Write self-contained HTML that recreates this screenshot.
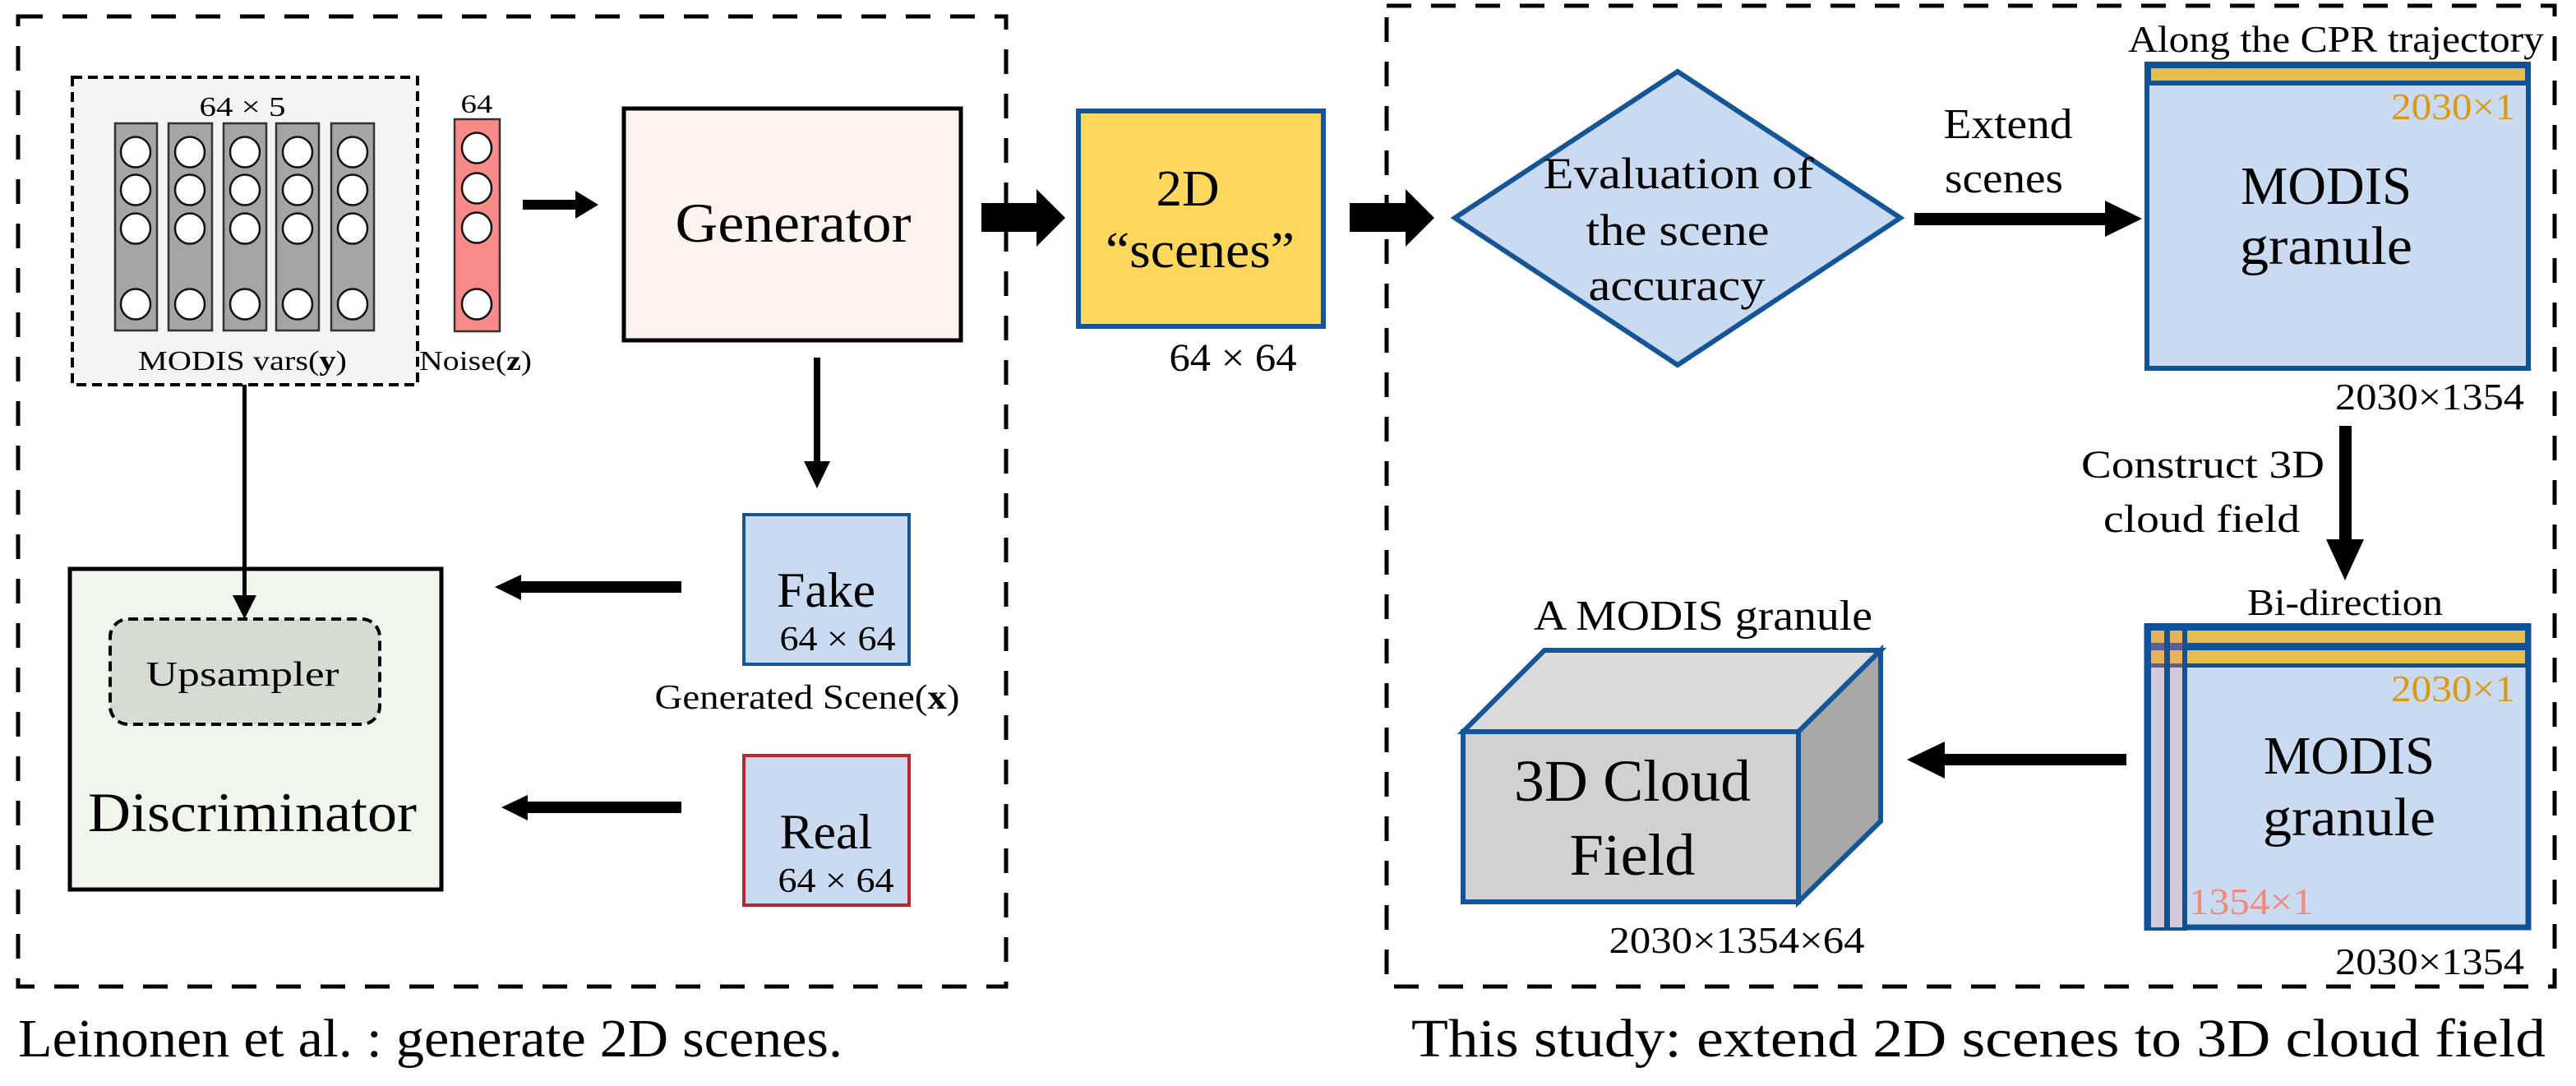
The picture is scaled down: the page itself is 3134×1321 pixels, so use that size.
<!DOCTYPE html>
<html><head><meta charset="utf-8"><style>html,body{margin:0;padding:0;background:#fff}svg{display:block}text{font-family:"Liberation Serif","Times New Roman",serif}</style></head>
<body>
<svg xmlns="http://www.w3.org/2000/svg" width="3134" height="1321" viewBox="0 0 3134 1321" fill="#000">
<rect width="3134" height="1321" fill="#fff"/>
<rect x="22" y="20" width="1202" height="1180" fill="none" stroke="#000" stroke-width="5" stroke-dasharray="30 24"/>
<rect x="1687" y="7" width="1421" height="1193" fill="none" stroke="#000" stroke-width="5" stroke-dasharray="30 24"/>

<rect x="88" y="94" width="420" height="374" fill="#f4f4f4" stroke="#000" stroke-width="4" stroke-dasharray="12 7"/>
<text x="295" y="141" font-size="34" text-anchor="middle" textLength="105" lengthAdjust="spacingAndGlyphs">64 × 5</text>
<g stroke="#333" stroke-width="2.5">
<rect x="140" y="150" width="51" height="252" fill="#a6a4a5"/>
<rect x="205" y="150" width="53" height="252" fill="#a6a4a5"/>
<rect x="272" y="150" width="52" height="252" fill="#a6a4a5"/>
<rect x="336" y="150" width="52" height="252" fill="#a6a4a5"/>
<rect x="403" y="150" width="52" height="252" fill="#a6a4a5"/>
<rect x="553" y="145" width="55" height="258" fill="#f98a8a"/>
</g>
<g fill="#fff" stroke="#111" stroke-width="2.5">
<ellipse cx="165" cy="185" rx="18" ry="18.5"/><ellipse cx="165" cy="231" rx="18" ry="18.5"/><ellipse cx="165" cy="278" rx="18" ry="18.5"/><ellipse cx="165" cy="370" rx="18" ry="18.5"/>
<ellipse cx="231" cy="185" rx="18" ry="18.5"/><ellipse cx="231" cy="231" rx="18" ry="18.5"/><ellipse cx="231" cy="278" rx="18" ry="18.5"/><ellipse cx="231" cy="370" rx="18" ry="18.5"/>
<ellipse cx="298" cy="185" rx="18" ry="18.5"/><ellipse cx="298" cy="231" rx="18" ry="18.5"/><ellipse cx="298" cy="278" rx="18" ry="18.5"/><ellipse cx="298" cy="370" rx="18" ry="18.5"/>
<ellipse cx="362" cy="185" rx="18" ry="18.5"/><ellipse cx="362" cy="231" rx="18" ry="18.5"/><ellipse cx="362" cy="278" rx="18" ry="18.5"/><ellipse cx="362" cy="370" rx="18" ry="18.5"/>
<ellipse cx="429" cy="185" rx="18" ry="18.5"/><ellipse cx="429" cy="231" rx="18" ry="18.5"/><ellipse cx="429" cy="278" rx="18" ry="18.5"/><ellipse cx="429" cy="370" rx="18" ry="18.5"/>
<ellipse cx="580" cy="180" rx="18" ry="18.5"/><ellipse cx="580" cy="229" rx="18" ry="18.5"/><ellipse cx="580" cy="277" rx="18" ry="18.5"/><ellipse cx="580" cy="370" rx="18" ry="18.5"/>
</g>
<text x="580" y="137" font-size="32" text-anchor="middle" textLength="39" lengthAdjust="spacingAndGlyphs">64</text>
<text x="295" y="450" font-size="34" text-anchor="middle" textLength="254" lengthAdjust="spacingAndGlyphs">MODIS vars(<tspan font-weight="bold">y</tspan>)</text>
<text x="510" y="450" font-size="34" textLength="137" lengthAdjust="spacingAndGlyphs">Noise(<tspan font-weight="bold">z</tspan>)</text>

<polygon points="636,243 700,243 700,232 728,249 700,266 700,255 636,255"/>
<rect x="759" y="132" width="410" height="282" fill="#fdf3ee" stroke="#000" stroke-width="5"/>
<text x="965" y="294" font-size="68" text-anchor="middle" textLength="287" lengthAdjust="spacingAndGlyphs">Generator</text>
<rect x="990" y="435" width="8" height="128"/>
<polygon points="978,561 1010,561 994,594"/>

<rect x="85" y="692" width="452" height="390" fill="#eff6ec" stroke="#000" stroke-width="5"/>
<rect x="134" y="753" width="328" height="128" rx="22" fill="#d5dcd2" stroke="#000" stroke-width="4" stroke-dasharray="12 7"/>
<rect x="295" y="468" width="5" height="260"/>
<polygon points="283,724 312,724 297.5,753"/>
<text x="295" y="834" font-size="42" text-anchor="middle" textLength="235" lengthAdjust="spacingAndGlyphs">Upsampler</text>
<text x="307" y="1011" font-size="68" text-anchor="middle" textLength="400" lengthAdjust="spacingAndGlyphs">Discriminator</text>
<polygon points="602,714 634,699 634,707 829,707 829,721 634,721 634,730"/>
<polygon points="610,982 642,967 642,975 829,975 829,989 642,989 642,998"/>
<rect x="905" y="626" width="201" height="182" fill="#c9daf1" stroke="#15569a" stroke-width="4"/>
<text x="1005" y="738" font-size="60" text-anchor="middle" textLength="120" lengthAdjust="spacingAndGlyphs">Fake</text>
<text x="1019" y="791" font-size="42" text-anchor="middle" textLength="141" lengthAdjust="spacingAndGlyphs">64 × 64</text>
<text x="982" y="862" font-size="42" text-anchor="middle" textLength="371" lengthAdjust="spacingAndGlyphs">Generated Scene(<tspan font-weight="bold">x</tspan>)</text>
<rect x="905" y="919" width="201" height="182" fill="#c9daf1" stroke="#c0262d" stroke-width="4"/>
<text x="1005" y="1032" font-size="60" text-anchor="middle" textLength="113" lengthAdjust="spacingAndGlyphs">Real</text>
<text x="1017" y="1085" font-size="42" text-anchor="middle" textLength="141" lengthAdjust="spacingAndGlyphs">64 × 64</text>

<polygon points="1194,247 1261,247 1261,230 1296,265 1261,300 1261,282 1194,282"/>
<polygon points="1642,247 1710,247 1710,230 1745,265 1710,300 1710,282 1642,282"/>
<rect x="1312" y="135" width="298" height="262" fill="#fdd85c" stroke="#15569a" stroke-width="6"/>
<text x="1445" y="250" font-size="62" text-anchor="middle" textLength="77" lengthAdjust="spacingAndGlyphs">2D</text>
<text x="1460" y="325" font-size="62" text-anchor="middle" textLength="230" lengthAdjust="spacingAndGlyphs">“scenes”</text>
<text x="1500" y="451" font-size="48" text-anchor="middle" textLength="155" lengthAdjust="spacingAndGlyphs">64 × 64</text>

<polygon points="1770,265 2041,87 2312,265 2041,444" fill="#c9daf1" stroke="#135596" stroke-width="6"/>
<text x="2042" y="229" font-size="54" text-anchor="middle" textLength="329" lengthAdjust="spacingAndGlyphs">Evaluation of</text>
<text x="2041" y="298" font-size="54" text-anchor="middle" textLength="223" lengthAdjust="spacingAndGlyphs">the scene</text>
<text x="2040" y="365" font-size="54" text-anchor="middle" textLength="215" lengthAdjust="spacingAndGlyphs">accuracy</text>
<text x="2443" y="168" font-size="52" text-anchor="middle" textLength="157" lengthAdjust="spacingAndGlyphs">Extend</text>
<text x="2438" y="234" font-size="52" text-anchor="middle" textLength="144" lengthAdjust="spacingAndGlyphs">scenes</text>
<polygon points="2329,259 2561,259 2561,244 2606,266 2561,288 2561,274 2329,274"/>

<text x="3095" y="63" font-size="46" text-anchor="end" textLength="506" lengthAdjust="spacingAndGlyphs">Along the CPR trajectory</text>
<rect x="2612" y="78" width="464" height="370" fill="#c9daf1" stroke="#0f5296" stroke-width="6"/>
<rect x="2612" y="75" width="464" height="29" fill="#0f5296"/>
<rect x="2617" y="83" width="455" height="15" fill="#e8bd4c"/>
<text x="3060" y="145" font-size="46" text-anchor="end" fill="#d99a10" textLength="151" lengthAdjust="spacingAndGlyphs">2030×1</text>
<text x="2830" y="248" font-size="66" text-anchor="middle" textLength="208" lengthAdjust="spacingAndGlyphs">MODIS</text>
<text x="2830" y="321" font-size="66" text-anchor="middle" textLength="210" lengthAdjust="spacingAndGlyphs">granule</text>
<text x="3071" y="498" font-size="46" text-anchor="end" textLength="230" lengthAdjust="spacingAndGlyphs">2030×1354</text>
<rect x="2846" y="518" width="15" height="142"/>
<polygon points="2830,656 2876,656 2853,706"/>
<text x="2828" y="581" font-size="48" text-anchor="end" textLength="296" lengthAdjust="spacingAndGlyphs">Construct 3D</text>
<text x="2798" y="647" font-size="48" text-anchor="end" textLength="239" lengthAdjust="spacingAndGlyphs">cloud field</text>

<text x="2853" y="748" font-size="46" text-anchor="middle" textLength="238" lengthAdjust="spacingAndGlyphs">Bi-direction</text>
<rect x="2612" y="762" width="464" height="366" fill="#c9daf1" stroke="#0f5296" stroke-width="7"/>
<rect x="2609" y="758" width="470" height="54" fill="#0f5296"/>
<rect x="2609" y="758" width="52" height="374" fill="#0f5296"/>
<rect x="2617" y="767" width="16" height="361" fill="#d4c8dc"/>
<rect x="2640" y="767" width="15" height="361" fill="#d4c8dc"/>
<rect x="2661" y="767" width="411" height="15" fill="#e8bd4c"/>
<rect x="2661" y="791" width="411" height="16" fill="#e8bd4c"/>
<g fill="#e8b05a"><rect x="2617" y="767" width="16" height="15"/><rect x="2640" y="767" width="15" height="15"/><rect x="2617" y="791" width="16" height="16"/><rect x="2640" y="791" width="15" height="16"/></g>
<g fill="#5a6090"><rect x="2617" y="782" width="16" height="9"/><rect x="2640" y="782" width="15" height="9"/><rect x="2617" y="807" width="16" height="5"/><rect x="2640" y="807" width="15" height="5"/></g>
<text x="3060" y="853" font-size="46" text-anchor="end" fill="#d99a10" textLength="151" lengthAdjust="spacingAndGlyphs">2030×1</text>
<text x="2858" y="941" font-size="66" text-anchor="middle" textLength="208" lengthAdjust="spacingAndGlyphs">MODIS</text>
<text x="2858" y="1016" font-size="66" text-anchor="middle" textLength="210" lengthAdjust="spacingAndGlyphs">granule</text>
<text x="2663" y="1112" font-size="46" fill="#f08a7a" textLength="151" lengthAdjust="spacingAndGlyphs">1354×1</text>
<text x="3071" y="1185" font-size="46" text-anchor="end" textLength="230" lengthAdjust="spacingAndGlyphs">2030×1354</text>
<polygon points="2320,924 2366,902 2366,917 2587,917 2587,931 2366,931 2366,947"/>

<polygon points="1780,890 1879,791 2288,791 2188,890" fill="#dbdbdb" stroke="#135596" stroke-width="6"/>
<polygon points="2188,890 2288,791 2288,999 2188,1097" fill="#a8a8a8" stroke="#135596" stroke-width="6"/>
<rect x="1780" y="890" width="408" height="207" fill="#d3d0d1" stroke="#135596" stroke-width="6"/>
<text x="1986" y="974" font-size="72" text-anchor="middle" textLength="288" lengthAdjust="spacingAndGlyphs">3D Cloud</text>
<text x="1986" y="1064" font-size="72" text-anchor="middle" textLength="153" lengthAdjust="spacingAndGlyphs">Field</text>
<text x="2072" y="766" font-size="52" text-anchor="middle" textLength="412" lengthAdjust="spacingAndGlyphs">A MODIS granule</text>
<text x="2113" y="1159" font-size="46" text-anchor="middle" textLength="311" lengthAdjust="spacingAndGlyphs">2030×1354×64</text>

<text x="22" y="1285" font-size="66" textLength="1003" lengthAdjust="spacingAndGlyphs">Leinonen et al. : generate 2D scenes.</text>
<text x="1717" y="1285" font-size="66" textLength="1380" lengthAdjust="spacingAndGlyphs">This study: extend 2D scenes to 3D cloud field</text>
</svg>
</body></html>
